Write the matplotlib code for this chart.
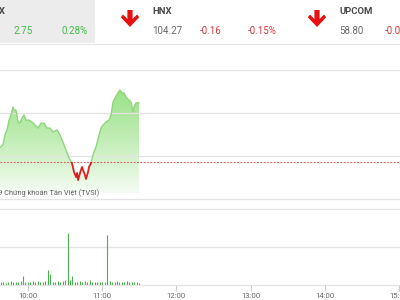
import numpy as np
import matplotlib
matplotlib.use("Agg")
import matplotlib.pyplot as plt
from matplotlib import font_manager
from matplotlib.patches import Rectangle, Polygon
from matplotlib.colors import LinearSegmentedColormap

# ---------------- data ----------------
# header quotes
idx_names = ["VNINDEX", "HNX", "UPCOM"]
idx_values = ["", "104.27", "58.80"]
idx_changes = ["2.75", "-0.16", "-0.03"]
idx_pcts = ["0.28%", "-0.15%", ""]

# intraday price (minutes after 09:00, index level)
price_min = [37.0, 39.8, 41.4, 43.1, 44.7, 46.3, 47.9, 48.7, 50.3, 52.0,
             53.6, 55.2, 56.8, 58.4, 60.9, 63.3, 65.7, 68.1, 70.6, 73.0,
             75.4, 77.8, 80.3, 83.5, 85.9, 88.3, 90.8, 93.2, 95.6, 97.2,
             98.9, 99.7, 100.5, 102.1, 103.7, 104.5, 106.1, 106.9, 108.6, 109.4,
             111.0, 112.6, 115.0, 117.5, 119.1, 120.7, 123.1, 125.5, 127.2, 128.8,
             130.4, 132.8, 134.4, 136.1, 137.7, 139.3, 141.7, 143.3, 145.0, 145.8,
             147.4, 149.8]
price_val = [982.37, 982.51, 982.98, 983.21, 983.67, 983.91, 984.28, 984.14, 984.14, 983.58,
             983.53, 983.77, 983.91, 983.67, 983.67, 983.58, 983.44, 983.30, 983.53, 983.53,
             983.30, 983.30, 983.12, 983.21, 982.98, 982.65, 982.28, 981.91, 981.67, 981.26,
             981.02, 981.21, 980.88, 981.21, 981.49, 981.35, 981.12, 980.93, 981.26, 981.49,
             981.67, 982.05, 982.42, 982.98, 983.30, 983.44, 983.58, 983.67, 983.91, 984.51,
             984.70, 984.93, 985.07, 984.93, 984.93, 984.74, 984.60, 984.51, 984.05, 984.28,
             984.47, 984.47]
ref_price = 981.72

# volume (every 2 minutes from 09:38)
vol_min = list(range(38, 151, 2))
vol_val = [0.30, 0.35, 0.25, 0.30, 0.40, 0.30, 0.35, 0.30, 0.40, 0.90,
           0.30, 0.35, 0.30, 0.40, 0.30, 0.45, 0.30, 0.35, 0.40, 1.60,
           1.20, 0.35, 0.30, 0.40, 0.30, 0.45, 0.50, 5.50, 0.50, 1.00,
           0.30, 0.35, 0.40, 0.30, 0.45, 0.30, 0.50, 0.30, 0.35, 0.30,
           0.30, 0.35, 0.30, 5.30, 0.40, 0.35, 0.30, 0.45, 0.30, 0.35,
           0.30, 0.40, 0.30, 0.35, 0.30, 0.30, 0.25]

tick_min = [60, 120, 180, 240, 300, 360]
tick_lbl = ["10:00", "11:00", "12:00", "13:00", "14:00", "15:00"]

# ---------------- figure ----------------
plt.rcParams['font.family'] = ['Roboto', 'DejaVu Sans']
W, H = 400, 300
fig = plt.figure(figsize=(4, 3), dpi=100)
fig.patch.set_facecolor('white')

def fx(px):
    return px / W

def fy(py):
    return 1 - py / H

GREEN_T = '#45b845'
RED_T = '#d9363b'
GREY_T = '#6a6a6a'
DARK_T = '#4a4a4a'

# header
fig.patches.append(Rectangle((0, fy(43)), fx(95), 43 / H, transform=fig.transFigure,
                             facecolor='#ececec', edgecolor='none', zorder=0))
fig.lines.append(plt.Line2D([0, 1], [fy(43.5), fy(43.5)], transform=fig.transFigure,
                            color='#e4e4e4', lw=0.8))

def arrow(cx):
    pts = [(-2.6, 10), (2.6, 10), (2.6, 19), (7, 14.5), (9.2, 17.2), (0, 27),
           (-9.2, 17.2), (-7, 14.5), (-2.6, 19)]
    fig.patches.append(Polygon([(fx(cx + a), fy(b)) for a, b in pts], closed=True,
                               transform=fig.transFigure, facecolor='#e8100f',
                               edgecolor='none'))

arrow(130)
arrow(317)

fs = 7
fig.text(fx(5.5), fy(12), idx_names[0], ha='right', va='center', fontsize=6.8,
         fontweight='bold', color=DARK_T)
fig.text(fx(13), fy(31), idx_changes[0], ha='left', va='center', fontsize=fs, color=GREEN_T)
fig.text(fx(61), fy(31), idx_pcts[0], ha='left', va='center', fontsize=fs, color=GREEN_T)

fig.text(fx(152), fy(12), idx_names[1], ha='left', va='center', fontsize=6.8,
         fontweight='bold', color=DARK_T)
fig.text(fx(152), fy(31), idx_values[1], ha='left', va='center', fontsize=fs, color=GREY_T)
fig.text(fx(200), fy(31), idx_changes[1], ha='left', va='center', fontsize=fs, color=RED_T)
fig.text(fx(248), fy(31), idx_pcts[1], ha='left', va='center', fontsize=fs, color=RED_T)

fig.text(fx(339), fy(12), idx_names[2], ha='left', va='center', fontsize=6.8,
         fontweight='bold', color=DARK_T)
fig.text(fx(339), fy(31), idx_values[2], ha='left', va='center', fontsize=fs, color=GREY_T)
fig.text(fx(385), fy(31), idx_changes[2], ha='left', va='center', fontsize=fs, color=RED_T)

# x mapping: x=0 -> 37.4 min, x=400 -> 360.8 min
XMIN, XMAX = 37.4, 360.8

# price panel
axp = fig.add_axes([0, fy(199), 1, (199 - 70) / H])
axp.set_xlim(XMIN, XMAX)
axp.set_ylim(980, 986)
axp.axis('off')

fill_bottom = 980.28
t = np.array(price_min)
v = np.array(price_val)
verts = [(t[0], fill_bottom)] + list(zip(t, v)) + [(t[-1], fill_bottom)]
clip_poly = Polygon(verts, closed=True, transform=axp.transData, facecolor='none',
                    edgecolor='none')
axp.add_patch(clip_poly)
cmap = LinearSegmentedColormap.from_list('g', ['#f5fcf3', '#c4eeb8', '#9ae287'])
grad = np.linspace(0, 1, 256).reshape(-1, 1)
im = axp.imshow(grad, extent=[t[0], t[-1], fill_bottom, max(price_val)], origin='lower',
                aspect='auto', cmap=cmap, zorder=1, interpolation='bilinear')
im.set_clip_path(clip_poly)
axp.set_xlim(XMIN, XMAX)
axp.set_ylim(980, 986)

for gy in [980, 982, 984, 986]:
    axp.axhline(gy, color='#e3e3e3', lw=0.9, zorder=2, clip_on=False)

axp.axhline(ref_price, color='#e05555', lw=0.8, ls=(0, (1.5, 1.5)), zorder=3)

up_clip = Rectangle((XMIN, ref_price), XMAX - XMIN, 10, transform=axp.transData)
dn_clip = Rectangle((XMIN, 970), XMAX - XMIN, ref_price - 970, transform=axp.transData)
l1, = axp.plot(t, v, color='#8ed67c', lw=1.0, zorder=4)
l1.set_clip_path(up_clip)
l2, = axp.plot(t, v, color='#e01e1e', lw=1.3, zorder=4)
l2.set_clip_path(dn_clip)

avail = {f.name for f in font_manager.fontManager.ttflist}
if 'Liberation Sans Narrow' in avail:
    wm_family, wm_size = ['Liberation Sans Narrow', 'DejaVu Sans'], 6.4
else:
    wm_family, wm_size = ['Roboto', 'DejaVu Sans'], 5.3
fig.text(fx(99), fy(193), "© 2019 Chứng khoán Tân Việt (TVSI)", ha='right', va='center',
         fontsize=wm_size, family=wm_family, color='#606060')

# volume panel
axv = fig.add_axes([0, fy(285), 1, (285 - 209) / H])
axv.set_xlim(XMIN, XMAX)
axv.set_ylim(0, 8)
for s in axv.spines.values():
    s.set_visible(False)
for gy in [0, 4, 8]:
    axv.axhline(gy, color='#e3e3e3', lw=0.9, zorder=1, clip_on=False)
axv.vlines(vol_min, 0, vol_val, color='#4caf50', lw=0.8, zorder=3)
axv.set_yticks([])
axv.set_xticks(tick_min)
axv.set_xticklabels(tick_lbl)
axv.tick_params(axis='x', length=4, width=0.8, color='#cccccc', labelsize=5.6,
                labelcolor='#666666', pad=2)

fig.savefig('out.png', dpi=100, facecolor='white')
